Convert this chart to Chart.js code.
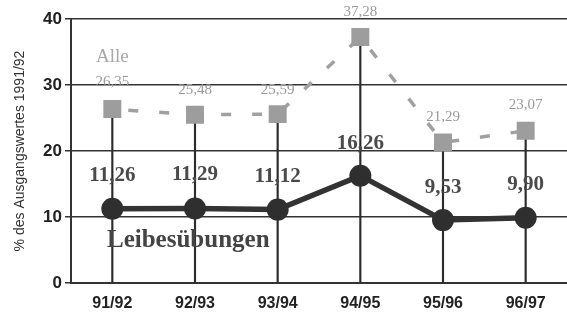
<!DOCTYPE html>
<html>
<head>
<meta charset="utf-8">
<script src="https://cdn.jsdelivr.net/npm/chart.js@4"></script>
<style>
  html, body { margin: 0; padding: 0; background: #fff; }
  #wrap { width: 567px; height: 322px; }
</style>
</head>
<body>
<div id="wrap"><canvas id="chart"></canvas></div>
<script>
const years = ["91/92", "92/93", "93/94", "94/95", "95/96", "96/97"];
const alleValues = [26.35, 25.48, 25.59, 37.28, 21.29, 23.07];
const leibValues = [11.26, 11.29, 11.12, 16.26, 9.53, 9.90];
const alleLabels = ["26,35", "25,48", "25,59", "37,28", "21,29", "23,07"];
const leibLabels = ["11,26", "11,29", "11,12", "16,26", "9,53", "9,90"];
const yTicks = [0, 10, 20, 30, 40];

// vertical shift of each value label above its point
const alleShift = [-27, -25, -24, -25, -25, -26];
const leibShift = [-33, -34, -33, -32, -33, -33];

const valueLabels = {
  id: "valueLabels",
  afterDatasetsDraw(chart) {
    const ctx = chart.ctx;
    ctx.save();
    ctx.textAlign = "center";
    ctx.textBaseline = "middle";

    let meta = chart.getDatasetMeta(1);
    ctx.font = "15px 'Liberation Serif'";
    ctx.fillStyle = "#9a9a9a";
    meta.data.forEach((pt, i) => {
      ctx.fillText(alleLabels[i], pt.x, pt.y + alleShift[i]);
    });

    meta = chart.getDatasetMeta(2);
    ctx.font = "bold 21px 'Liberation Serif'";
    ctx.fillStyle = "#4a4a4a";
    meta.data.forEach((pt, i) => {
      ctx.fillText(leibLabels[i], pt.x, pt.y + leibShift[i]);
    });

    // series names
    ctx.textAlign = "left";
    ctx.font = "19px 'Liberation Serif'";
    ctx.fillStyle = "#a8a8a8";
    ctx.fillText("Alle", 96, 57);
    ctx.font = "bold 25px 'Liberation Serif'";
    ctx.fillStyle = "#444";
    ctx.fillText("Leibesübungen", 107, 241);
    ctx.restore();
  }
};

new Chart(document.getElementById("chart"), {
  data: {
    labels: years,
    datasets: [
      {
        type: "bar",
        data: alleValues,
        backgroundColor: "#2b2b2b",
        barThickness: 1.5,
        order: 3
      },
      {
        type: "line",
        data: alleValues,
        borderColor: "#a0a0a0",
        borderWidth: 3.5,
        borderDash: [10, 21],
        borderDashOffset: -16,
        pointStyle: "rect",
        pointRadius: 12.7,
        pointBackgroundColor: "#9d9d9d",
        pointBorderWidth: 0,
        tension: 0,
        order: 2
      },
      {
        type: "line",
        data: leibValues,
        borderColor: "#333",
        borderWidth: 5.5,
        pointStyle: "circle",
        pointRadius: 11,
        pointBackgroundColor: "#2f2f2f",
        pointBorderWidth: 0,
        tension: 0,
        order: 1
      }
    ]
  },
  options: {
    responsive: true,
    maintainAspectRatio: false,
    animation: false,
    layout: { autoPadding: false, padding: { top: 19, right: -4, left: 0, bottom: 0 } },
    plugins: {
      legend: { display: false },
      tooltip: { enabled: false }
    },
    scales: {
      x: {
        offset: true,
        grid: { display: false },
        border: { color: "#333", width: 2 },
        ticks: {
          color: "#222",
          font: { family: "'Liberation Sans'", size: 16, weight: "bold" },
          padding: 3,
          maxRotation: 0
        },
        afterFit(scale) {
          scale.height = 39;
          scale.paddingLeft = 0;
          scale.paddingRight = 0;
        }
      },
      y: {
        min: 0,
        max: 40,
        afterBuildTicks(scale) { scale.ticks = yTicks.map(v => ({ value: v })); },
        grid: { color: "#333", lineWidth: 1.5, tickLength: 6 },
        border: { color: "#333", width: 2 },
        ticks: {
          color: "#222",
          font: { family: "'Liberation Sans'", size: 17, weight: "bold" },
          padding: 3
        },
        title: {
          display: true,
          text: "% des Ausgangswertes 1991/92",
          color: "#333",
          font: { family: "'Liberation Sans'", size: 14 },
          padding: { top: 12, bottom: 0 }
        },
        afterFit(scale) { scale.width = 71; }
      }
    }
  },
  plugins: [valueLabels]
});
</script>
</body>
</html>
